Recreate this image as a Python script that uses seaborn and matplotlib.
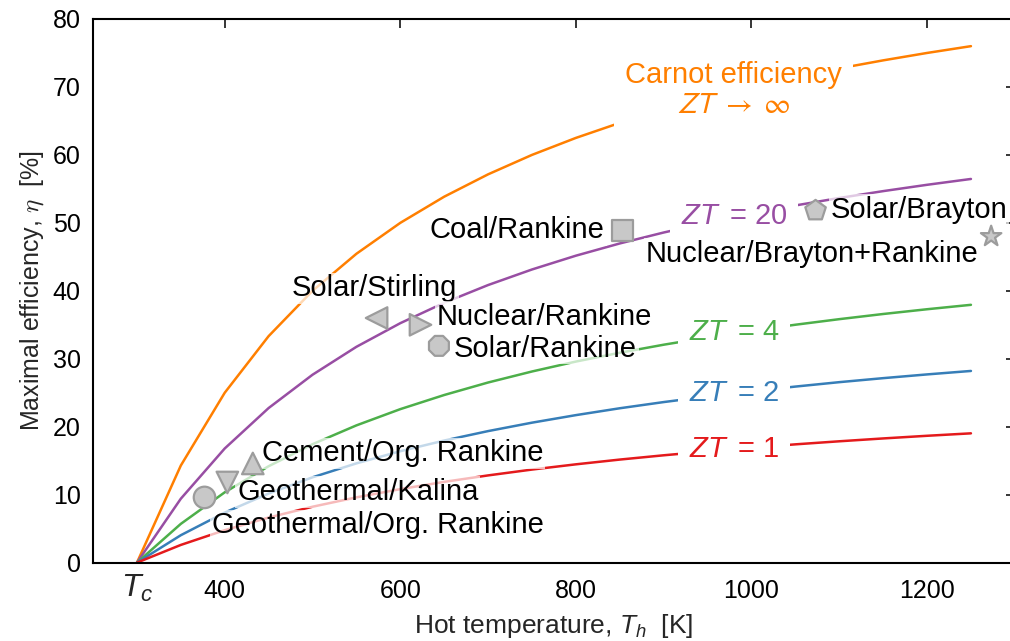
import numpy as np
import pandas as pd
import seaborn as sns
import matplotlib
matplotlib.use("Agg")
import matplotlib.pyplot as plt

# Hot-side temperature grid [K] (cold side fixed at T_c = 300 K)
temps = [300, 350, 400, 450, 500, 550, 600, 650, 700, 750,
         800, 850, 900, 950, 1000, 1050, 1100, 1150, 1200, 1250]

# Maximal efficiency [%] for each figure of merit
eta_carnot = [0.0, 14.29, 25.00, 33.33, 40.00, 45.45, 50.00, 53.85, 57.14, 60.00,
              62.50, 64.71, 66.67, 68.42, 70.00, 71.43, 72.73, 73.91, 75.00, 76.00]
eta_zt20 = [0.0, 9.41, 16.80, 22.75, 27.65, 31.76, 35.24, 38.24, 40.85, 43.14,
            45.17, 46.97, 48.58, 50.04, 51.36, 52.56, 53.66, 54.67, 55.60, 56.46]
eta_zt4 = [0.0, 5.71, 10.35, 14.19, 17.43, 20.20, 22.59, 24.67, 26.51, 28.13,
           29.59, 30.89, 32.07, 33.14, 34.12, 35.01, 35.83, 36.59, 37.29, 37.94]
eta_zt2 = [0.0, 4.04, 7.37, 10.17, 12.56, 14.61, 16.40, 17.97, 19.36, 20.60,
           21.71, 22.72, 23.63, 24.46, 25.22, 25.91, 26.56, 27.15, 27.70, 28.21]
eta_zt1 = [0.0, 2.61, 4.78, 6.64, 8.23, 9.61, 10.82, 11.89, 12.84, 13.70,
           14.47, 15.17, 15.80, 16.38, 16.91, 17.41, 17.86, 18.28, 18.67, 19.03]

curve_names = ["carnot", "zt20", "zt4", "zt2", "zt1"]
curve_colors = ["#ff7f00", "#984ea3", "#4daf4a", "#377eb8", "#e41a1c"]
curve_labels = ["Carnot efficiency" + "\n" + r"$ZT\ \rightarrow\ \infty$",
                r"$ZT\,$ = 20", r"$ZT\,$ = 4", r"$ZT\,$ = 2", r"$ZT\,$ = 1"]
label_T = [980, 980, 980, 980, 980]
label_eta = [69.6, 49.9, 32.7, 23.8, 15.6]

# Existing heat-engine technologies
plants = ["Geothermal/Org. Rankine", "Geothermal/Kalina", "Cement/Org. Rankine",
          "Solar/Stirling", "Nuclear/Rankine", "Solar/Rankine", "Coal/Rankine",
          "Solar/Brayton", "Nuclear/Brayton+Rankine"]
plant_T = [377, 403, 432, 573, 623, 644, 853, 1073, 1273]
plant_eta = [9.6, 11.8, 14.6, 36.0, 35.0, 31.9, 48.9, 51.8, 48.0]
plant_markers = ["o", "v", "^", "<", ">", "8", "s", "p", "*"]
# label anchor (T, baseline eta, horizontal alignment)
plant_text_T = [385, 414, 442, 571, 641, 661, 833, 1090, 1259]
plant_text_eta = [4.3, 9.2, 14.9, 39.2, 35.0, 30.3, 47.7, 50.7, 44.3]
plant_text_ha = ["left", "left", "left", "center", "left", "left", "right", "left", "right"]

sns.set_style("white")
plt.rcParams["font.family"] = ["Liberation Sans", "DejaVu Sans"]
plt.rcParams["mathtext.fontset"] = "custom"
plt.rcParams["mathtext.rm"] = "Liberation Sans"
plt.rcParams["mathtext.it"] = "Liberation Sans:italic"
plt.rcParams["mathtext.fallback"] = "cm"

fig = plt.figure(figsize=(10.10, 6.41), dpi=100)
ax = fig.add_axes([0.0921, 0.1222, 0.9127, 0.8482])

curves = pd.DataFrame({
    "T": temps * len(curve_names),
    "eta": eta_carnot + eta_zt20 + eta_zt4 + eta_zt2 + eta_zt1,
    "curve": [n for n in curve_names for _ in temps],
})
sns.lineplot(data=curves, x="T", y="eta", hue="curve", hue_order=curve_names,
             palette=dict(zip(curve_names, curve_colors)), linewidth=1.8,
             errorbar=None, legend=False, ax=ax, zorder=2)

# Curve labels sit on opaque boxes that interrupt the lines
for lab, tx, ty, col in zip(curve_labels, label_T, label_eta, curve_colors):
    multi = "\n" in lab
    ax.text(tx, ty, lab, color=col, fontsize=21, ha="center",
            va="center" if multi else "baseline",
            multialignment="center", linespacing=1.1, zorder=3,
            math_fontfamily="stixsans" if multi else "custom",
            bbox=dict(boxstyle="square,pad=0.38", facecolor="white", edgecolor="none"))

pts = pd.DataFrame({"T": plant_T, "eta": plant_eta, "plant": plants})
sns.scatterplot(data=pts, x="T", y="eta", style="plant", style_order=plants,
                markers=dict(zip(plants, plant_markers)), s=240,
                color="#c8c8c8", edgecolor="#9c9c9c", linewidth=1.6,
                legend=False, ax=ax, zorder=6)

for lab, tx, ty, ha in zip(plants, plant_text_T, plant_text_eta, plant_text_ha):
    ax.text(tx, ty, lab, fontsize=21, ha=ha, va="baseline", color="black", zorder=5,
            bbox=dict(boxstyle="square,pad=0.06", facecolor="white",
                      edgecolor="none", alpha=0.7))

ax.set_xlim(250, 1300)
ax.set_ylim(0, 80)
ax.set_xticks([400, 600, 800, 1000, 1200])
ax.set_yticks(np.arange(0, 81, 10))
ax.tick_params(direction="in", top=True, right=True, length=6.5, width=1.1,
               labelsize=18, colors="black")
ax.tick_params(axis="x", pad=11.5)
ax.tick_params(axis="y", pad=9)
for sp in ax.spines.values():
    sp.set_linewidth(1.5)
    sp.set_color("black")

ax.text(300, -0.063, r"$T_c$", transform=ax.get_xaxis_transform(),
        fontsize=23, ha="center", va="baseline")

ax.set_xlabel(r"Hot temperature, $T_h$  [K]", fontsize=19, labelpad=7)
ax.set_ylabel(r"Maximal efficiency, $\eta$  [%]", fontsize=18, labelpad=5,
              math_fontfamily="cm")

fig.savefig("out.png", dpi=100)
